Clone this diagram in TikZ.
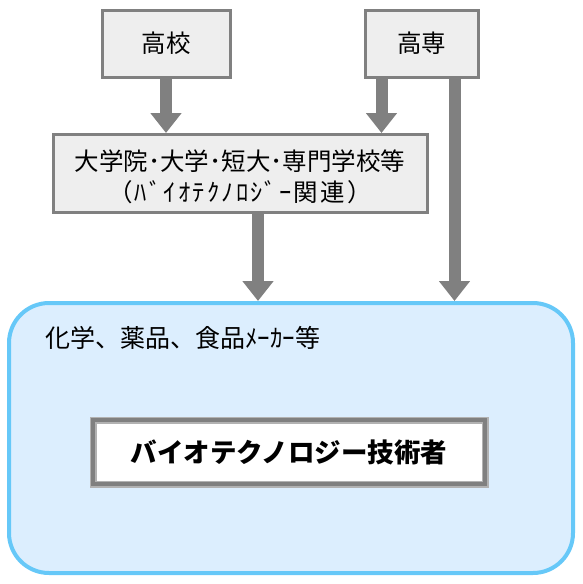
\documentclass[tikz,border=0pt]{standalone}
\usepackage{fontspec}
\setmainfont{Noto Sans CJK JP}
\newfontfamily\widekana[LetterSpace=9]{Noto Sans CJK JP}
\usetikzlibrary{arrows.meta}
\definecolor{boxgray}{HTML}{808080}
\definecolor{boxfill}{HTML}{EEEEEE}
\definecolor{skyline}{HTML}{66C8F8}
\definecolor{skyfill}{HTML}{DCEEFE}
\tikzset{
  school/.style={draw=boxgray, fill=boxfill, line width=3pt, inner sep=0pt,
    font=\fontsize{24.5}{31}\selectfont, align=center},
  flow/.style={draw=boxgray, line width=12pt, -{Triangle[width=30pt,length=20pt]}}
}
\begin{document}
\begin{tikzpicture}[x=1pt,y=-1pt]
\useasboundingbox (0,0) rectangle (582,584);
\node[school, minimum width=128pt, minimum height=67pt] (koukou) at (166,43.5) {高校};
\node[school, minimum width=113pt, minimum height=67pt] (kousen) at (421.5,43.5) {高専};
\node[school, minimum width=374pt, minimum height=78pt] (daigaku) at (240,173.5) {};
\node[font=\fontsize{24.5}{31}\selectfont, align=center, inner sep=0pt] (daigakutext) at (240,177) {大学院･大学･短大･専門学校等\\{\widekana （ﾊﾞｲｵﾃｸﾉﾛｼﾞｰ関連）}};
\node[draw=skyline, fill=skyfill, line width=4pt, rounded corners=40pt,
  minimum width=564pt, minimum height=270pt] (maker) at (291,438) {};
\node[anchor=west, inner sep=0pt, font=\fontsize{25}{28}\selectfont] (makerlabel) at (45,338) {化学、薬品、食品ﾒｰｶｰ等};
\node[draw=gray!60, double=boxgray, line width=1.5pt, double distance=4pt, fill=white,
  minimum width=392pt, minimum height=64pt, font=\bfseries\fontsize{26.5}{30}\selectfont] (gijutsu) at (289,452) {バイオテクノロジー技術者};
\path[flow] (koukou.south) -- (koukou.south |- daigaku.north);
\path[flow] ([xshift=18pt]kousen.south west) -- ([xshift=18pt]kousen.south west |- daigaku.north);
\path[flow] ([xshift=18pt]daigaku.south) -- ([xshift=18pt]daigaku.south |- maker.north);
\path[flow] ([xshift=-25pt]kousen.south east) -- ([xshift=-25pt]kousen.south east |- maker.north);
\end{tikzpicture}
\end{document}
